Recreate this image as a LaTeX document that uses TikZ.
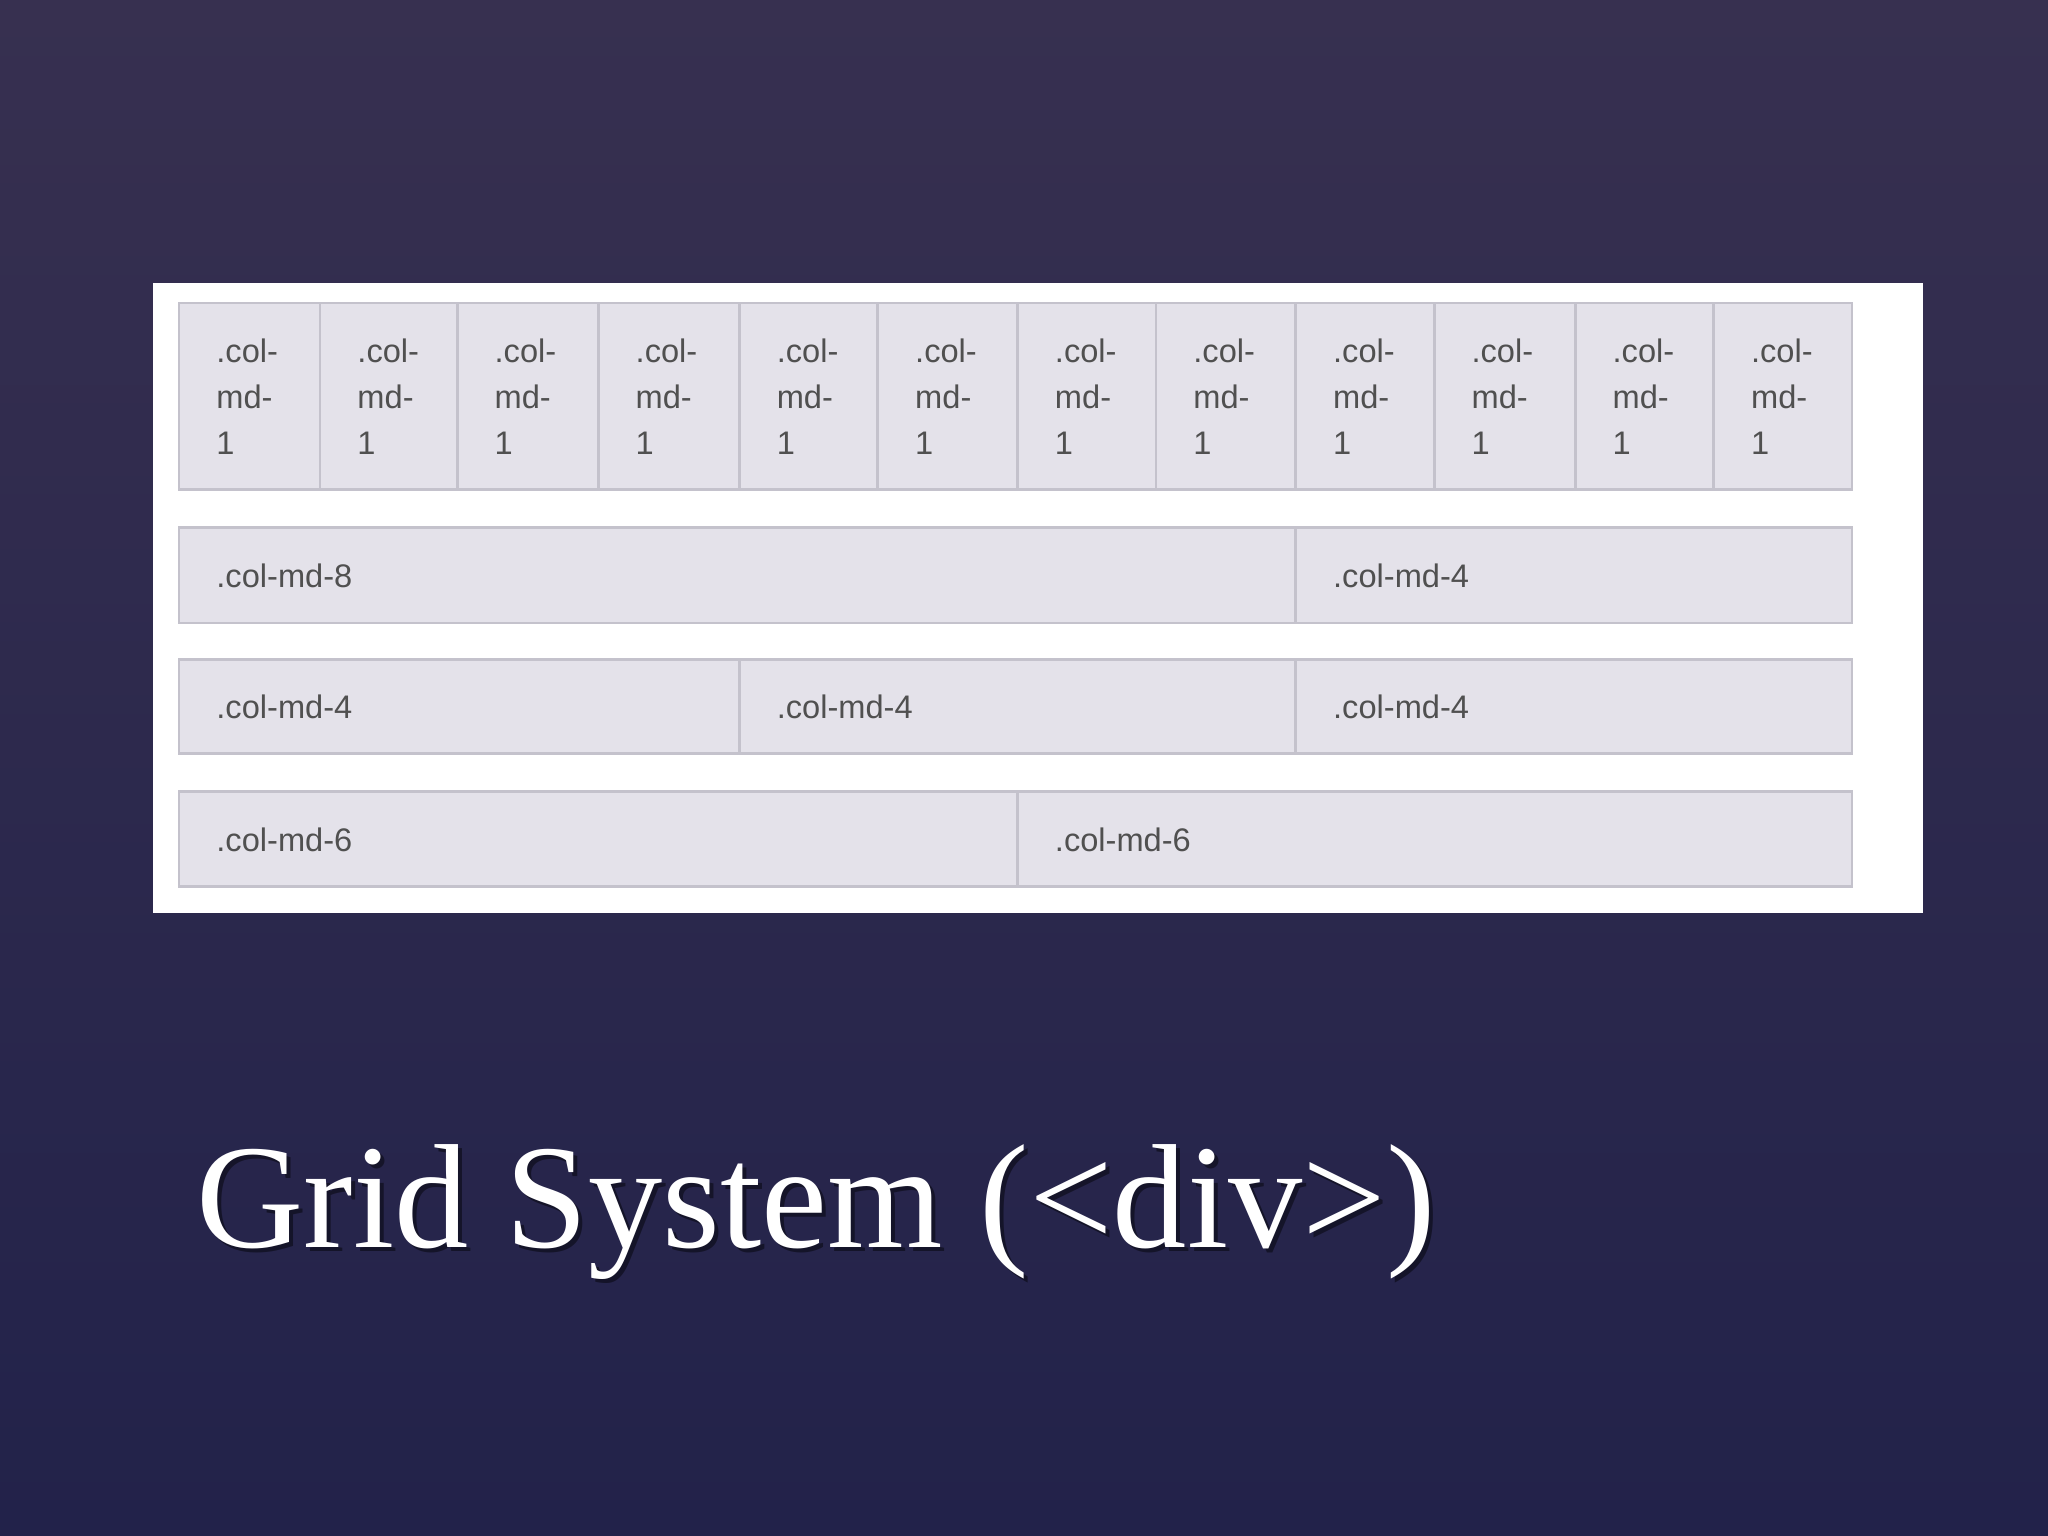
\documentclass[tikz,border=0pt]{standalone}
\usepackage{fontspec}
\setmainfont{Liberation Serif}
\newfontfamily\cellfont{Liberation Sans}
\begin{document}
\begin{tikzpicture}[x=0.01cm,y=-0.01cm,
  cell/.style={draw=cellborder,fill=cellfill,line width=0.6pt},
  celltext/.style={anchor=west,text=celltxt,font=\cellfont\fontsize{7.1}{9}\selectfont,inner sep=0pt},
  stacktext/.style={anchor=north west,text=celltxt,font=\cellfont\fontsize{7.1}{10}\selectfont,align=left,inner sep=0pt}]
\definecolor{cellfill}{HTML}{E4E2EA}
\definecolor{cellborder}{HTML}{C4C2CC}
\definecolor{celltxt}{HTML}{505050}
\useasboundingbox (0,0) rectangle (1568,1176);
\shade[top color={rgb,255:red,55;green,48;blue,80}, bottom color={rgb,255:red,34;green,34;blue,74}] (0,0) rectangle (1568,1176);
\fill[white] (117,217) rectangle (1472,699);
% row 1
\foreach \a/\b [count=\i] in {137/245,245/350,350/458,458/566,566/672,672/779,779/885,885/992,992/1098,1098/1206,1206/1312,1312/1418}{
  \draw[cell] (\a,232) rectangle (\b,375);
  \node[stacktext] (c\i) at (\a+28,259) {.col-\\md-\\1};
}
% row 2
\draw[cell] (137,404) rectangle (992,477); \node[celltext] (r2a) at (165,441) {.col-md-8};
\draw[cell] (992,404) rectangle (1418,477); \node[celltext] (r2b) at (1020,441) {.col-md-4};
% row 3
\draw[cell] (137,505) rectangle (566,577); \node[celltext] (r3a) at (165,541) {.col-md-4};
\draw[cell] (566,505) rectangle (992,577); \node[celltext] (r3b) at (594,541) {.col-md-4};
\draw[cell] (992,505) rectangle (1418,577); \node[celltext] (r3c) at (1020,541) {.col-md-4};
% row 4
\draw[cell] (137,606) rectangle (779,679); \node[celltext] (r4a) at (165,643) {.col-md-6};
\draw[cell] (779,606) rectangle (1418,679); \node[celltext] (r4b) at (807,643) {.col-md-6};
% title
\node[anchor=base west,text=black,opacity=0.45,font=\fontsize{32.3}{36}\selectfont,inner sep=0pt] (shadow) at (153,958) {Grid System (<div>)};
\node[anchor=base west,text=white,font=\fontsize{32.3}{36}\selectfont,inner sep=0pt] (title) at (150,955) {Grid System (<div>)};
\end{tikzpicture}
\end{document}
